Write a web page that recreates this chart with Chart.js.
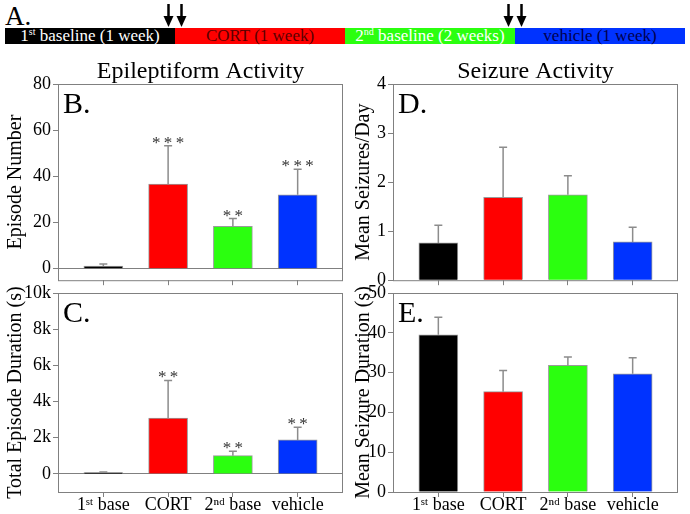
<!DOCTYPE html>
<html>
<head>
<meta charset="utf-8">
<script src="https://cdn.jsdelivr.net/npm/chart.js@4"></script>
<style>
  body { margin: 0; background: #fff; width: 690px; height: 514px; position: relative; overflow: hidden; }
  canvas { position: absolute; }
  svg { position: absolute; left: 0; top: 0; font-family: "Liberation Serif", serif; }
</style>
</head>
<body>
<svg width="690" height="50">
  <text x="5" y="25" font-size="27">A.</text>
  <rect x="5" y="28" width="170" height="16" fill="#000"/>
  <rect x="175" y="28" width="170" height="16" fill="#ff0000"/>
  <rect x="345" y="28" width="170" height="16" fill="#2bff0f"/>
  <rect x="515" y="28" width="170" height="16" fill="#0033ff"/>
  <text x="90" y="41" text-anchor="middle" fill="#fff" font-size="17">1<tspan dy="-6" font-size="10">st</tspan><tspan dy="6"> baseline (1 week)</tspan></text>
  <text x="260" y="41" text-anchor="middle" fill="#5a0000" font-size="17">CORT (1 week)</text>
  <text x="430" y="41" text-anchor="middle" fill="#fff" font-size="17">2<tspan dy="-6" font-size="10">nd</tspan><tspan dy="6"> baseline (2 weeks)</tspan></text>
  <text x="600" y="41" text-anchor="middle" fill="#000050" font-size="17">vehicle (1 week)</text>
  <g stroke="#000" stroke-width="2.5">
    <line x1="168.5" y1="4" x2="168.5" y2="18"/><line x1="181.5" y1="4" x2="181.5" y2="18"/>
    <line x1="508.5" y1="4" x2="508.5" y2="18"/><line x1="521.5" y1="4" x2="521.5" y2="18"/>
  </g>
  <g fill="#000">
    <polygon points="163.5,16 173.5,16 168.5,27"/><polygon points="176.5,16 186.5,16 181.5,27"/>
    <polygon points="503.5,16 513.5,16 508.5,27"/><polygon points="516.5,16 526.5,16 521.5,27"/>
  </g>
</svg>
<canvas id="chartB" width="345" height="235" style="left:0;top:58px"></canvas>
<canvas id="chartD" width="345" height="235" style="left:345px;top:58px"></canvas>
<canvas id="chartC" width="345" height="244" style="left:0;top:270px"></canvas>
<canvas id="chartE" width="345" height="244" style="left:345px;top:270px"></canvas>
<script>
const groups = ['1ˢᵗ base', 'CORT', '2ⁿᵈ base', 'vehicle'];
const barColors = ['#000000', '#ff0000', '#2bff0f', '#0033ff'];

// B. epileptiform episode number
const episodeNumber = [1.1, 36.6, 18.3, 32.0];
const episodeNumberSem = [0.9, 16.7, 3.4, 11.1];
const episodeNumberStars = ['', '***', '**', '***'];
const episodeNumberTicks = [0, 20, 40, 60, 80];

// C. total episode duration (s)
const episodeDuration = [70, 3080, 1010, 1880];
const episodeDurationSem = [40, 2090, 240, 700];
const episodeDurationStars = ['', '**', '**', '**'];
const episodeDurationTicks = [0, 2000, 4000, 6000, 8000, 10000];
const episodeDurationTickLabels = ['0', '2k', '4k', '6k', '8k', '10k'];

// D. mean seizures per day
const seizuresPerDay = [0.76, 1.69, 1.74, 0.78];
const seizuresPerDaySem = [0.36, 1.02, 0.39, 0.30];
const seizuresPerDayTicks = [0, 1, 2, 3, 4];

// E. mean seizure duration (s)
const seizureDuration = [39.5, 25.2, 31.8, 29.7];
const seizureDurationSem = [4.4, 5.3, 2.1, 4.0];
const seizureDurationTicks = [0, 10, 20, 30, 40, 50];

const FONT = '"Liberation Serif", serif';
const GRAY = '#808080';

// error bars, stars, frame, panel letter and heading
const decor = {
  id: 'decor',
  afterDatasetsDraw(chart) {
    const ds = chart.data.datasets[0];
    const meta = chart.getDatasetMeta(0);
    const y = chart.scales.y;
    const ctx = chart.ctx;
    const a = chart.chartArea;
    ctx.save();
    meta.data.forEach((bar, i) => {
      const top = y.getPixelForValue(ds.data[i].y + ds.sem[i]);
      ctx.strokeStyle = '#8c8c8c';
      ctx.lineWidth = 1.5;
      ctx.beginPath();
      ctx.moveTo(bar.x, bar.y);
      ctx.lineTo(bar.x, top);
      ctx.moveTo(bar.x - 4, top);
      ctx.lineTo(bar.x + 4, top);
      ctx.stroke();
      if (ds.stars && ds.stars[i]) {
        ctx.fillStyle = '#333';
        ctx.font = '17px ' + FONT;
        ctx.textAlign = 'center';
        ctx.textBaseline = 'alphabetic';
        ctx.fillText(ds.stars[i].split('').join('\u2009'), bar.x, top + 2);
      }
    });
    ctx.strokeStyle = GRAY;
    ctx.lineWidth = 1;
    ctx.strokeRect(a.left + 0.5, a.top + 0.5, a.right - a.left - 1, a.bottom - a.top);
    ctx.fillStyle = '#000';
    ctx.textBaseline = 'alphabetic';
    ctx.textAlign = 'left';
    ctx.font = '30px ' + FONT;
    ctx.fillText(ds.panel, a.left + 5, a.top + 29);
    if (ds.heading) {
      ctx.textAlign = 'center';
      ctx.font = '24px ' + FONT;
      ctx.fillText(ds.heading, (a.left + a.right) / 2, a.top - 6);
    }
    ctx.restore();
  }
};

function makeChart(id, p) {
  new Chart(document.getElementById(id), {
    type: 'bar',
    data: {
      datasets: [{
        data: p.values.map((v, i) => ({ x: i, y: v })),
        sem: p.sem,
        stars: p.stars,
        panel: p.panel,
        heading: p.heading,
        backgroundColor: barColors,
        borderColor: 'rgba(120,120,120,0.75)',
        borderWidth: 1,
        barThickness: 39
      }]
    },
    options: {
      responsive: false,
      animation: false,
      layout: { padding: { left: 0, top: p.padTop, right: p.padRight, bottom: 0 } },
      plugins: { legend: { display: false }, tooltip: { enabled: false } },
      scales: {
        x: {
          type: 'linear',
          offset: false,
          min: -0.7,
          max: 3.7,
          afterBuildTicks: s => { s.ticks = groups.map((g, i) => ({ value: i })); },
          afterFit: s => { s.height = p.xHeight; },
          border: { display: false },
          grid: { offset: false, drawOnChartArea: false, drawTicks: true, tickLength: 5, color: GRAY, tickColor: GRAY },
          ticks: {
            display: p.showX,
            autoSkip: false,
            maxRotation: 0,
            padding: -3,
            color: '#000',
            font: { family: FONT, size: 18 },
            callback: v => groups[v]
          }
        },
        y: {
          min: p.min,
          max: p.max,
          afterBuildTicks: s => { s.ticks = p.ticks.map(v => ({ value: v })); },
          afterFit: s => { s.width = p.axisWidth; },
          border: { display: false },
          grid: {
            drawOnChartArea: true,
            drawTicks: true,
            tickLength: 5,
            tickColor: GRAY,
            color: c => (p.zeroLine && c.tick && c.tick.value === 0) ? GRAY : 'rgba(0,0,0,0)'
          },
          ticks: {
            padding: 2,
            color: '#000',
            font: { family: FONT, size: 18 },
            callback: (v, i) => p.tickLabels ? p.tickLabels[i] : String(v)
          },
          title: {
            display: true,
            text: p.title,
            color: '#000',
            font: { family: FONT, size: 20 },
            padding: { top: p.titlePad, bottom: 0 }
          }
        }
      }
    },
    plugins: [decor]
  });
}

makeChart('chartB', {
  values: episodeNumber, sem: episodeNumberSem, stars: episodeNumberStars,
  ticks: episodeNumberTicks, min: -5, max: 80, zeroLine: true,
  title: 'Episode Number', panel: 'B.', heading: 'Epileptiform Activity',
  padTop: 26, padRight: 2, axisWidth: 58, xHeight: 10, showX: false, titlePad: 4
});
makeChart('chartD', {
  values: seizuresPerDay, sem: seizuresPerDaySem,
  ticks: seizuresPerDayTicks, min: 0, max: 4, zeroLine: false,
  title: 'Mean Seizures/Day', panel: 'D.', heading: 'Seizure Activity',
  padTop: 26, padRight: 12, axisWidth: 48, xHeight: 10, showX: false, titlePad: 7
});
makeChart('chartC', {
  values: episodeDuration, sem: episodeDurationSem, stars: episodeDurationStars,
  ticks: episodeDurationTicks, tickLabels: episodeDurationTickLabels, min: -1000, max: 10000, zeroLine: true,
  title: 'Total Episode Duration (s)', panel: 'C.',
  padTop: 23, padRight: 2, axisWidth: 58, xHeight: 22, showX: true, titlePad: 4
});
makeChart('chartE', {
  values: seizureDuration, sem: seizureDurationSem,
  ticks: seizureDurationTicks, min: 0, max: 50, zeroLine: false,
  title: 'Mean Seizure Duration (s)', panel: 'E.',
  padTop: 23, padRight: 12, axisWidth: 48, xHeight: 22, showX: true, titlePad: 7
});
</script>
</body>
</html>
